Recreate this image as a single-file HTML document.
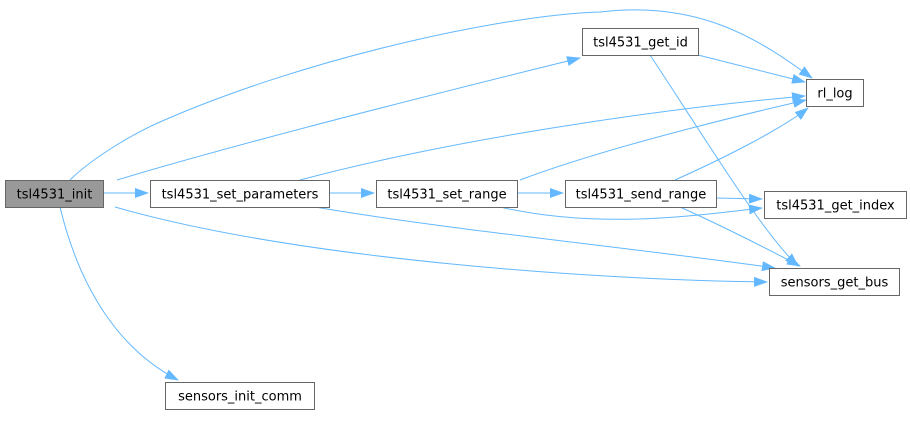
<!DOCTYPE html>
<html><head><meta charset="utf-8"><style>
body{margin:0;background:#fff;width:910px;height:416px;overflow:hidden}
svg text{font-family:"DejaVu Sans","Liberation Sans",sans-serif;font-size:13px;fill:#000}
</style></head><body>
<svg width="910" height="416" viewBox="0 0 910 416" xmlns="http://www.w3.org/2000/svg">
<defs><marker id="a" markerWidth="14" markerHeight="10" refX="13" refY="5" orient="auto" markerUnits="userSpaceOnUse"><path d="M0,0 L14,5 L0,10 z" fill="#63b8ff"/></marker></defs>
<g fill="none" stroke="#63b8ff" stroke-width="1" marker-end="url(#a)">
<path d="M103,193 L148,193"/>
<path d="M70,180 C90,160 130,135 160,122 C300,60 500,15 600,12 C700,0 760,40 812,78"/>
<path d="M117,180 C250,140 450,90 580,58"/>
<path d="M115,207 C300,260 600,280 767,282"/>
<path d="M60,207 C80,290 120,350 178,380"/>
<path d="M329,193 L374,193"/>
<path d="M300,180 C450,140 650,110 805,96"/>
<path d="M315,207 C450,230 650,250 775,268"/>
<path d="M517,193 L563,193"/>
<path d="M520,180 C600,150 720,120 806,100"/>
<path d="M500,207 C600,230 700,215 762,208"/>
<path d="M716,198 L762,199"/>
<path d="M675,180 C720,160 780,130 808,108"/>
<path d="M680,207 C720,225 760,245 800,266"/>
<path d="M698,55 L805,82"/>
<path d="M650,55 C700,130 760,230 798,266"/>
</g>
<g stroke="#666" stroke-width="1">
<rect x="5.5" y="180.5" width="98" height="27" fill="#999"/>
<rect x="150.5" y="180.5" width="179" height="27" fill="#fff"/>
<rect x="376.5" y="180.5" width="141" height="27" fill="#fff"/>
<rect x="565.5" y="180.5" width="151" height="27" fill="#fff"/>
<rect x="582.5" y="28.5" width="116" height="27" fill="#fff"/>
<rect x="806.5" y="79.5" width="57" height="27" fill="#fff"/>
<rect x="764.5" y="191.5" width="142" height="27" fill="#fff"/>
<rect x="769.5" y="268.5" width="130" height="27" fill="#fff"/>
<rect x="165.5" y="382.5" width="149" height="27" fill="#fff"/>
</g>
<g text-anchor="middle">
<text x="54.5" y="198.5">tsl4531_init</text>
<text x="240" y="198.5">tsl4531_set_parameters</text>
<text x="447" y="198.5">tsl4531_set_range</text>
<text x="641" y="198.5">tsl4531_send_range</text>
<text x="640.5" y="46.5">tsl4531_get_id</text>
<text x="835" y="97.5">rl_log</text>
<text x="835.5" y="209.5">tsl4531_get_index</text>
<text x="834.5" y="286.5">sensors_get_bus</text>
<text x="240" y="400.5">sensors_init_comm</text>
</g>
</svg>
</body></html>
